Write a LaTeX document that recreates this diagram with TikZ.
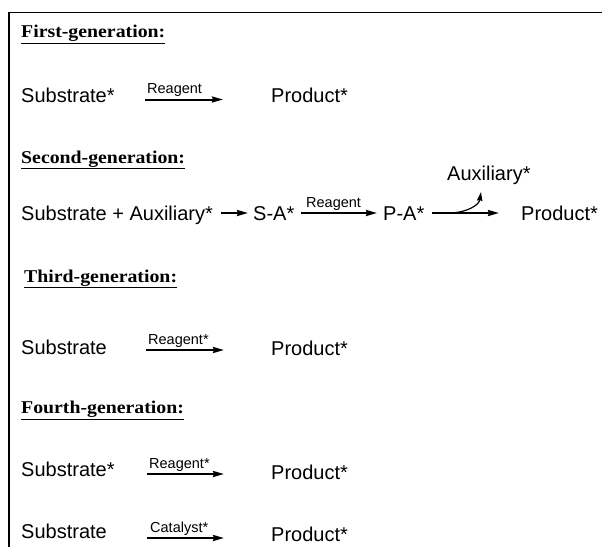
\documentclass[tikz,border=0pt]{standalone}
\usepackage{fontspec}
\usepackage{graphicx}
\setmainfont{Liberation Serif}
\setsansfont{Liberation Sans}
\usetikzlibrary{arrows.meta}
\newcommand{\genhead}[1]{\scalebox{1.1}[1]{\underline{#1}}}
\begin{document}
\begin{tikzpicture}[x=1pt,y=-1pt,
 chem/.style={anchor=base west, inner sep=0pt, font=\sffamily\fontsize{20}{22}\selectfont},
 lbl/.style={anchor=base west, inner sep=0pt, font=\sffamily\fontsize{14.5}{16}\selectfont},
 head/.style={anchor=base west, inner sep=0pt, font=\rmfamily\bfseries\fontsize{18}{20}\selectfont},
 rxn/.style={-{Stealth[length=11pt,width=6pt,inset=1pt]}, line width=2pt},
]
\useasboundingbox (0,0) rectangle (602,547);
\draw[line width=1.5pt] (9,547) -- (9,12.5) -- (602,12.5);

% First generation
\node[head] (h1) at (21,37.5) {\genhead{First-generation:}};
\node[chem] (s1) at (21,102) {Substrate*};
\node[chem] (p1) at (271,102) {Product*};
\coordinate (a1s) at (145,99.5); \coordinate (a1e) at (223,99.5);
\draw[rxn] (a1s) -- (a1e);
\node[lbl] (l1) at (147,93.5) {Reagent};

% Second generation
\node[head] (h2) at (21,163) {\genhead{Second-generation:}};
\node[chem] (s2) at (21,220) {Substrate + Auxiliary*};
\node[chem] (sa) at (253,220) {S-A*};
\node[chem] (pa) at (383,220) {P-A*};
\node[chem] (p2) at (521,220) {Product*};
\node[chem] (aux) at (447,180) {Auxiliary*};
\coordinate (b1s) at (221,213); \coordinate (b1e) at (248,213);
\coordinate (b2s) at (301,213); \coordinate (b2e) at (377,213);
\coordinate (b3s) at (432,213); \coordinate (b3e) at (499,213);
\coordinate (b3m) at (451,213); \coordinate (auxe) at (481,192);
\draw[rxn] (b1s) -- (b1e);
\draw[rxn] (b2s) -- (b2e);
\node[lbl] (l2) at (306,207.5) {Reagent};
\draw[rxn] (b3s) -- (b3e);
\draw[-{Stealth[length=9pt,width=5.5pt,inset=1pt]}, line width=1.2pt] (b3m) .. controls (468,212) and (479,205) .. (auxe);

% Third generation
\node[head] (h3) at (24,282) {\genhead{Third-generation:}};
\node[chem] (s3) at (21,354) {Substrate};
\node[chem] (p3) at (271,355) {Product*};
\coordinate (c1s) at (146,350); \coordinate (c1e) at (224,350);
\draw[rxn] (c1s) -- (c1e);
\node[lbl] (l3) at (148,344) {Reagent*};

% Fourth generation
\node[head] (h4) at (21,413.5) {\genhead{Fourth-generation:}};
\node[chem] (s4) at (21,476) {Substrate*};
\node[chem] (p4) at (271,479) {Product*};
\coordinate (d1s) at (147,474); \coordinate (d1e) at (224,474);
\draw[rxn] (d1s) -- (d1e);
\node[lbl] (l4) at (149,468) {Reagent*};

\node[chem] (s5) at (21,538) {Substrate};
\node[chem] (p5) at (271,541) {Product*};
\coordinate (e1s) at (147,538); \coordinate (e1e) at (224,538);
\draw[rxn] (e1s) -- (e1e);
\node[lbl] (l5) at (150,532) {Catalyst*};
\end{tikzpicture}
\end{document}
